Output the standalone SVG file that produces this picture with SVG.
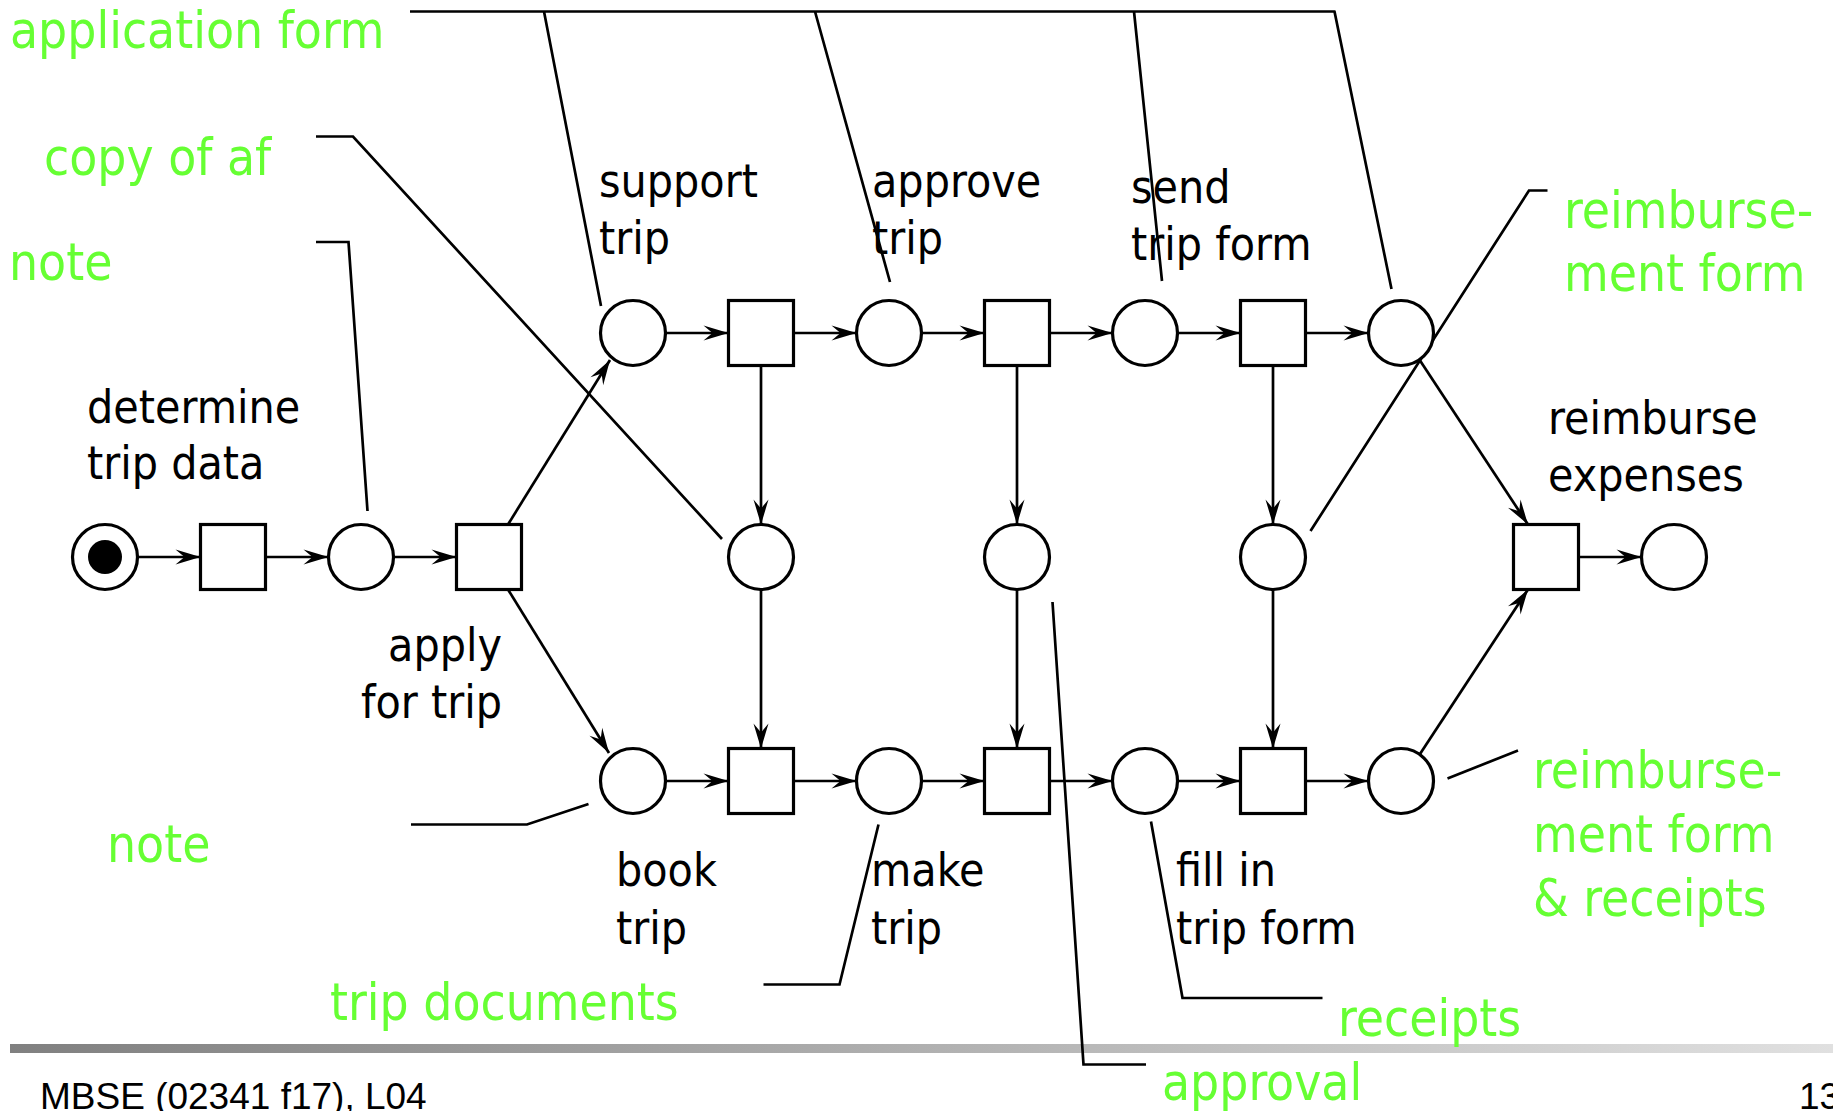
<svg xmlns="http://www.w3.org/2000/svg" width="1833" height="1111" viewBox="0 0 1833 1111">
<style>
.p{fill:#fff;stroke:#000;stroke-width:3.2}
.t{fill:#fff;stroke:#000;stroke-width:3.2}
.a{fill:none;stroke:#000;stroke-width:2.7}
.n{fill:none;stroke:#000;stroke-width:2.7}
.lb{font-family:'DejaVu Sans Condensed','DejaVu Sans',sans-serif;font-stretch:condensed;font-size:46px;fill:#000}
.gr{font-family:'DejaVu Sans Condensed','DejaVu Sans',sans-serif;font-stretch:condensed;font-size:51px;fill:#66FF33}
.ft{font-family:'Liberation Sans',Arial,sans-serif;font-size:37px;fill:#000}
</style>
<defs>
<marker id="arr" markerUnits="userSpaceOnUse" markerWidth="26" markerHeight="16" refX="25" refY="8" orient="auto" overflow="visible">
<path d="M0,0.5 L25,8 L0,15.5 L9,8 Z" fill="#000"/>
</marker>
<linearGradient id="bar" x1="0" y1="0" x2="1" y2="0">
<stop offset="0" stop-color="#808080"/>
<stop offset="1" stop-color="#e0e0e0"/>
</linearGradient>
</defs>
<rect width="1833" height="1111" fill="#fff"/>
<rect id="footer-bar" x="10" y="1044" width="1823" height="9" fill="url(#bar)"/>
<text class="ft" x="40" y="1109">MBSE (02341 f17), L04</text>
<text class="ft" x="1799" y="1109">13</text>

<g id="connectors">
<path class="a" marker-end="url(#arr)" d="M137.5,557 H200.5"/>
<path class="a" marker-end="url(#arr)" d="M265.5,557 H328.5"/>
<path class="a" marker-end="url(#arr)" d="M393.5,557 H456.5"/>
<path class="a" marker-end="url(#arr)" d="M508,524.5 L610,360"/>
<path class="a" marker-end="url(#arr)" d="M508,589.5 L609,753"/>
<path class="a" marker-end="url(#arr)" d="M665.5,333 H728.5"/>
<path class="a" marker-end="url(#arr)" d="M793.5,333 H856.5"/>
<path class="a" marker-end="url(#arr)" d="M921.5,333 H984.5"/>
<path class="a" marker-end="url(#arr)" d="M1049.5,333 H1112.5"/>
<path class="a" marker-end="url(#arr)" d="M1177.5,333 H1240.5"/>
<path class="a" marker-end="url(#arr)" d="M1305.5,333 H1368.5"/>
<path class="a" marker-end="url(#arr)" d="M665.5,781 H728.5"/>
<path class="a" marker-end="url(#arr)" d="M793.5,781 H856.5"/>
<path class="a" marker-end="url(#arr)" d="M921.5,781 H984.5"/>
<path class="a" marker-end="url(#arr)" d="M1049.5,781 H1112.5"/>
<path class="a" marker-end="url(#arr)" d="M1177.5,781 H1240.5"/>
<path class="a" marker-end="url(#arr)" d="M1305.5,781 H1368.5"/>
<path class="a" marker-end="url(#arr)" d="M761,365.5 V524.5"/>
<path class="a" marker-end="url(#arr)" d="M761,589.5 V748.5"/>
<path class="a" marker-end="url(#arr)" d="M1017,365.5 V524.5"/>
<path class="a" marker-end="url(#arr)" d="M1017,589.5 V748.5"/>
<path class="a" marker-end="url(#arr)" d="M1273,365.5 V524.5"/>
<path class="a" marker-end="url(#arr)" d="M1273,589.5 V748.5"/>
<path class="a" marker-end="url(#arr)" d="M1420,360.5 L1528,524.5"/>
<path class="a" marker-end="url(#arr)" d="M1420,754 L1528,589.5"/>
<path class="a" marker-end="url(#arr)" d="M1578.5,557 H1641.5"/>
</g>

<g id="annotation-lines">
<path class="n" d="M410,11.5 H1335.5 M544,11.5 L601,306 M815,11.5 L890,282 M1134,11.5 L1162,281 M1334.5,11.5 L1391.5,289"/>
<path class="n" d="M316,136.5 H353 L722,539"/>
<path class="n" d="M316,242 H348.5 L367.5,511"/>
<path class="n" d="M1547.5,190.5 H1529 L1310.5,531"/>
<path class="n" d="M1447.5,778.5 L1518,750.5"/>
<path class="n" d="M1151,821.5 L1182.5,998 H1322.5"/>
<path class="n" d="M1052.5,602 L1083.5,1064.5 H1146"/>
<path class="n" d="M878.5,824.5 L839.5,984.5 H763.5"/>
<path class="n" d="M588.5,804 L527,824.5 H411"/>
</g>

<g id="annotation-labels">
<text class="gr" x="10" y="48">application form</text>
<text class="gr" x="44" y="175">copy of af</text>
<text class="gr" x="9" y="280">note</text>
<text class="gr" x="1564" y="228">reimburse-</text>
<text class="gr" x="1564" y="291">ment form</text>
<text class="gr" x="107" y="862">note</text>
<text class="gr" x="330" y="1020">trip documents</text>
<text class="gr" x="1533" y="788">reimburse-</text>
<text class="gr" x="1533" y="852">ment form</text>
<text class="gr" x="1533" y="916">&amp; receipts</text>
<text class="gr" x="1338" y="1036">receipts</text>
<text class="gr" x="1162" y="1100">approval</text>
</g>

<g id="p-start"><circle class="p" cx="105" cy="557" r="32.5"/><circle cx="105" cy="557" r="17" fill="#000"/></g>
<g id="t-determine"><rect class="t" x="200.5" y="524.5" width="65" height="65"/><text class="lb" x="87" y="423">determine</text><text class="lb" x="87" y="479">trip data</text></g>
<g id="p-1"><circle class="p" cx="361" cy="557" r="32.5"/></g>
<g id="t-apply"><rect class="t" x="456.5" y="524.5" width="65" height="65"/><text class="lb" x="502" y="661" text-anchor="end">apply</text><text class="lb" x="502" y="718" text-anchor="end">for trip</text></g>
<g id="p-2"><circle class="p" cx="633" cy="333" r="32.5"/></g>
<g id="t-support"><rect class="t" x="728.5" y="300.5" width="65" height="65"/><text class="lb" x="599" y="197">support</text><text class="lb" x="599" y="254">trip</text></g>
<g id="p-3"><circle class="p" cx="889" cy="333" r="32.5"/></g>
<g id="t-approve"><rect class="t" x="984.5" y="300.5" width="65" height="65"/><text class="lb" x="872" y="197">approve</text><text class="lb" x="872" y="254">trip</text></g>
<g id="p-4"><circle class="p" cx="1145" cy="333" r="32.5"/></g>
<g id="t-send"><rect class="t" x="1240.5" y="300.5" width="65" height="65"/><text class="lb" x="1131" y="203">send</text><text class="lb" x="1131" y="260">trip form</text></g>
<g id="p-5"><circle class="p" cx="1401" cy="333" r="32.5"/></g>
<g id="p-6"><circle class="p" cx="761" cy="557" r="32.5"/></g>
<g id="p-7"><circle class="p" cx="1017" cy="557" r="32.5"/></g>
<g id="p-8"><circle class="p" cx="1273" cy="557" r="32.5"/></g>
<g id="t-reimburse"><rect class="t" x="1513.5" y="524.5" width="65" height="65"/><text class="lb" x="1548" y="434">reimburse</text><text class="lb" x="1548" y="491">expenses</text></g>
<g id="p-end"><circle class="p" cx="1674" cy="557" r="32.5"/></g>
<g id="p-9"><circle class="p" cx="633" cy="781" r="32.5"/></g>
<g id="t-book"><rect class="t" x="728.5" y="748.5" width="65" height="65"/><text class="lb" x="616" y="886">book</text><text class="lb" x="616" y="944">trip</text></g>
<g id="p-10"><circle class="p" cx="889" cy="781" r="32.5"/></g>
<g id="t-make"><rect class="t" x="984.5" y="748.5" width="65" height="65"/><text class="lb" x="871" y="886">make</text><text class="lb" x="871" y="944">trip</text></g>
<g id="p-11"><circle class="p" cx="1145" cy="781" r="32.5"/></g>
<g id="t-fill"><rect class="t" x="1240.5" y="748.5" width="65" height="65"/><text class="lb" x="1176" y="886">fill in</text><text class="lb" x="1176" y="944">trip form</text></g>
<g id="p-12"><circle class="p" cx="1401" cy="781" r="32.5"/></g>
</svg>
